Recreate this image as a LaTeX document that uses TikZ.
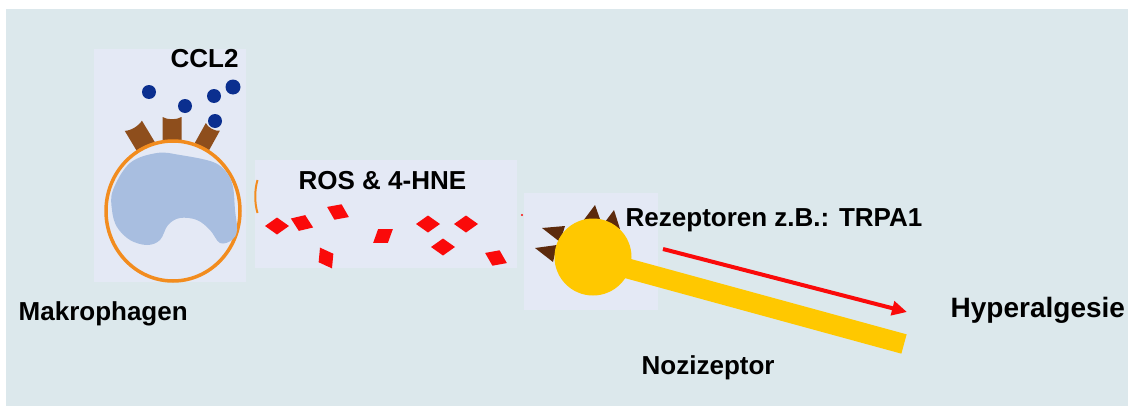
\documentclass[tikz,border=0pt]{standalone}
\usepackage{fontspec}
\setmainfont{Liberation Sans}
\usetikzlibrary{shapes,calc,arrows.meta}
\usepackage{xcolor}
\definecolor{panelblue}{RGB}{220,232,236}
\definecolor{picwhite}{RGB}{228,233,245}
\definecolor{ringorange}{RGB}{242,140,30}
\definecolor{nucleusblue}{RGB}{168,190,224}
\definecolor{chemoblue}{RGB}{11,47,143}
\definecolor{receptbrown}{RGB}{142,78,28}
\definecolor{spikebrown}{RGB}{92,42,12}
\definecolor{somayellow}{RGB}{255,200,0}
\definecolor{rosred}{RGB}{250,10,10}

% one receptor cup, base at (0,0), pointing up
\newcommand{\receptorcup}[2]{%
    \path[fill=receptbrown] (-#1,0) -- (-#1,-#2)
        .. controls (-#1/2,-#2+3) and (#1/2,-#2+3) .. (#1,-#2) -- (#1,0) -- cycle;}

\begin{document}
\begin{tikzpicture}[x=1pt,y=-1pt,
    txt/.style={anchor=base west,inner sep=0pt,font=\bfseries\fontsize{26}{30}\selectfont}]

    % Page is 1128 by 407, y runs down.
    \useasboundingbox (0,0) rectangle (1128,407);
    \path[fill=white] (0,0) rectangle (1128,407);
    \path[fill=panelblue] (6,9) rectangle (1128,406);

    % the three picture panels
    \path[fill=picwhite] (94,49) rectangle (246,282);
    \path[fill=picwhite] (255,160) rectangle (517,268);
    \path[fill=picwhite] (524,193) rectangle (658,310);

    % macrophage: receptors first, the ring goes over their feet
    \begin{scope}[shift={(146.7,148)},rotate=31]
        \receptorcup{10}{26}
    \end{scope}
    \begin{scope}[shift={(172,145)}]
        \receptorcup{9.5}{28}
    \end{scope}
    \begin{scope}[shift={(201.7,147)},rotate=-29]
        \receptorcup{8}{23}
    \end{scope}

    \path[draw=ringorange,line width=3.5pt,fill=picwhite] (173,211) ellipse [x radius=67, y radius=70];

    % nucleus
    \path[fill=nucleusblue] plot[smooth cycle,tension=0.6] coordinates {
        (113,190) (130,163) (157,153) (180,155) (213,162) (227,173)
        (233,187) (235,210) (237,230) (232,240) (220,243) (210,230)
        (197,220) (180,218) (168,225) (160,240) (147,245) (130,240)
        (117,227) (112,210)};

    % CCL2 chemokines
    \foreach \x/\y/\r in {149/92/7, 185/106/7, 214/96/7, 233/87/7.5, 215/121/7}
        \path[fill=chemoblue] (\x,\y) circle (\r);

    % bit of ring left over at the panel edge
    \draw[ringorange,line width=2pt] (257.5,180) .. controls (254.5,190) and (254.5,203) .. (257.5,213);

    % ROS / 4-HNE flakes
    \foreach \x/\y/\a in {277/226/0, 302/223/-22, 338/212/-25, 383/236/35, 326/258/-60,
                          428/224/0, 466/224/0, 443/247/0, 496/258/-25}
        \fill[rosred,rotate around={\a:(\x,\y)}] (\x-12,\y) -- (\x,\y-8.5) -- (\x+12,\y) -- (\x,\y+8.5) -- cycle;
    \fill[rosred] (522,215) circle (1.2);

    % nociceptor
    \coordinate (axonend) at (904,344);
    \foreach \tx/\ty/\ax/\ay/\bx/\by in {595/205/583/221/601/222, 614/210/605/222/620/229,
                                         542/228/565/226/560/242, 535/248/557/245/553/262}
        \path[fill=spikebrown] (\tx,\ty) -- (\ax,\ay) -- (\bx,\by) -- cycle;
    \draw[somayellow,line width=20pt] (593,259) -- (axonend);
    \node[circle,fill=somayellow,inner sep=0pt,minimum size=77pt] (soma) at (593,257) {};

    % signal arrow
    \coordinate (sigstart) at (663,249);
    \coordinate (sigend) at (907,312);
    \draw[rosred,line width=4pt,-{Triangle[length=15pt,width=14pt]}] (sigstart) -- (sigend);

    % texts
    \node[txt] (ccl) at (170.5,67) {CCL2};
    \node[txt] (makro) at (18.5,320) {Makrophagen};
    \node[txt] (ros) at (298.5,189) {ROS \& 4-HNE};
    \node[txt] (rezep) at (625.5,226) {Rezeptoren z.B.: TRPA1};
    \node[txt,font=\bfseries\fontsize{28}{32}\selectfont] (hyper) at (950.5,317) {Hyperalgesie};
    \node[txt] (nozi) at (641.5,374) {Nozizeptor};

\end{tikzpicture}
\end{document}
